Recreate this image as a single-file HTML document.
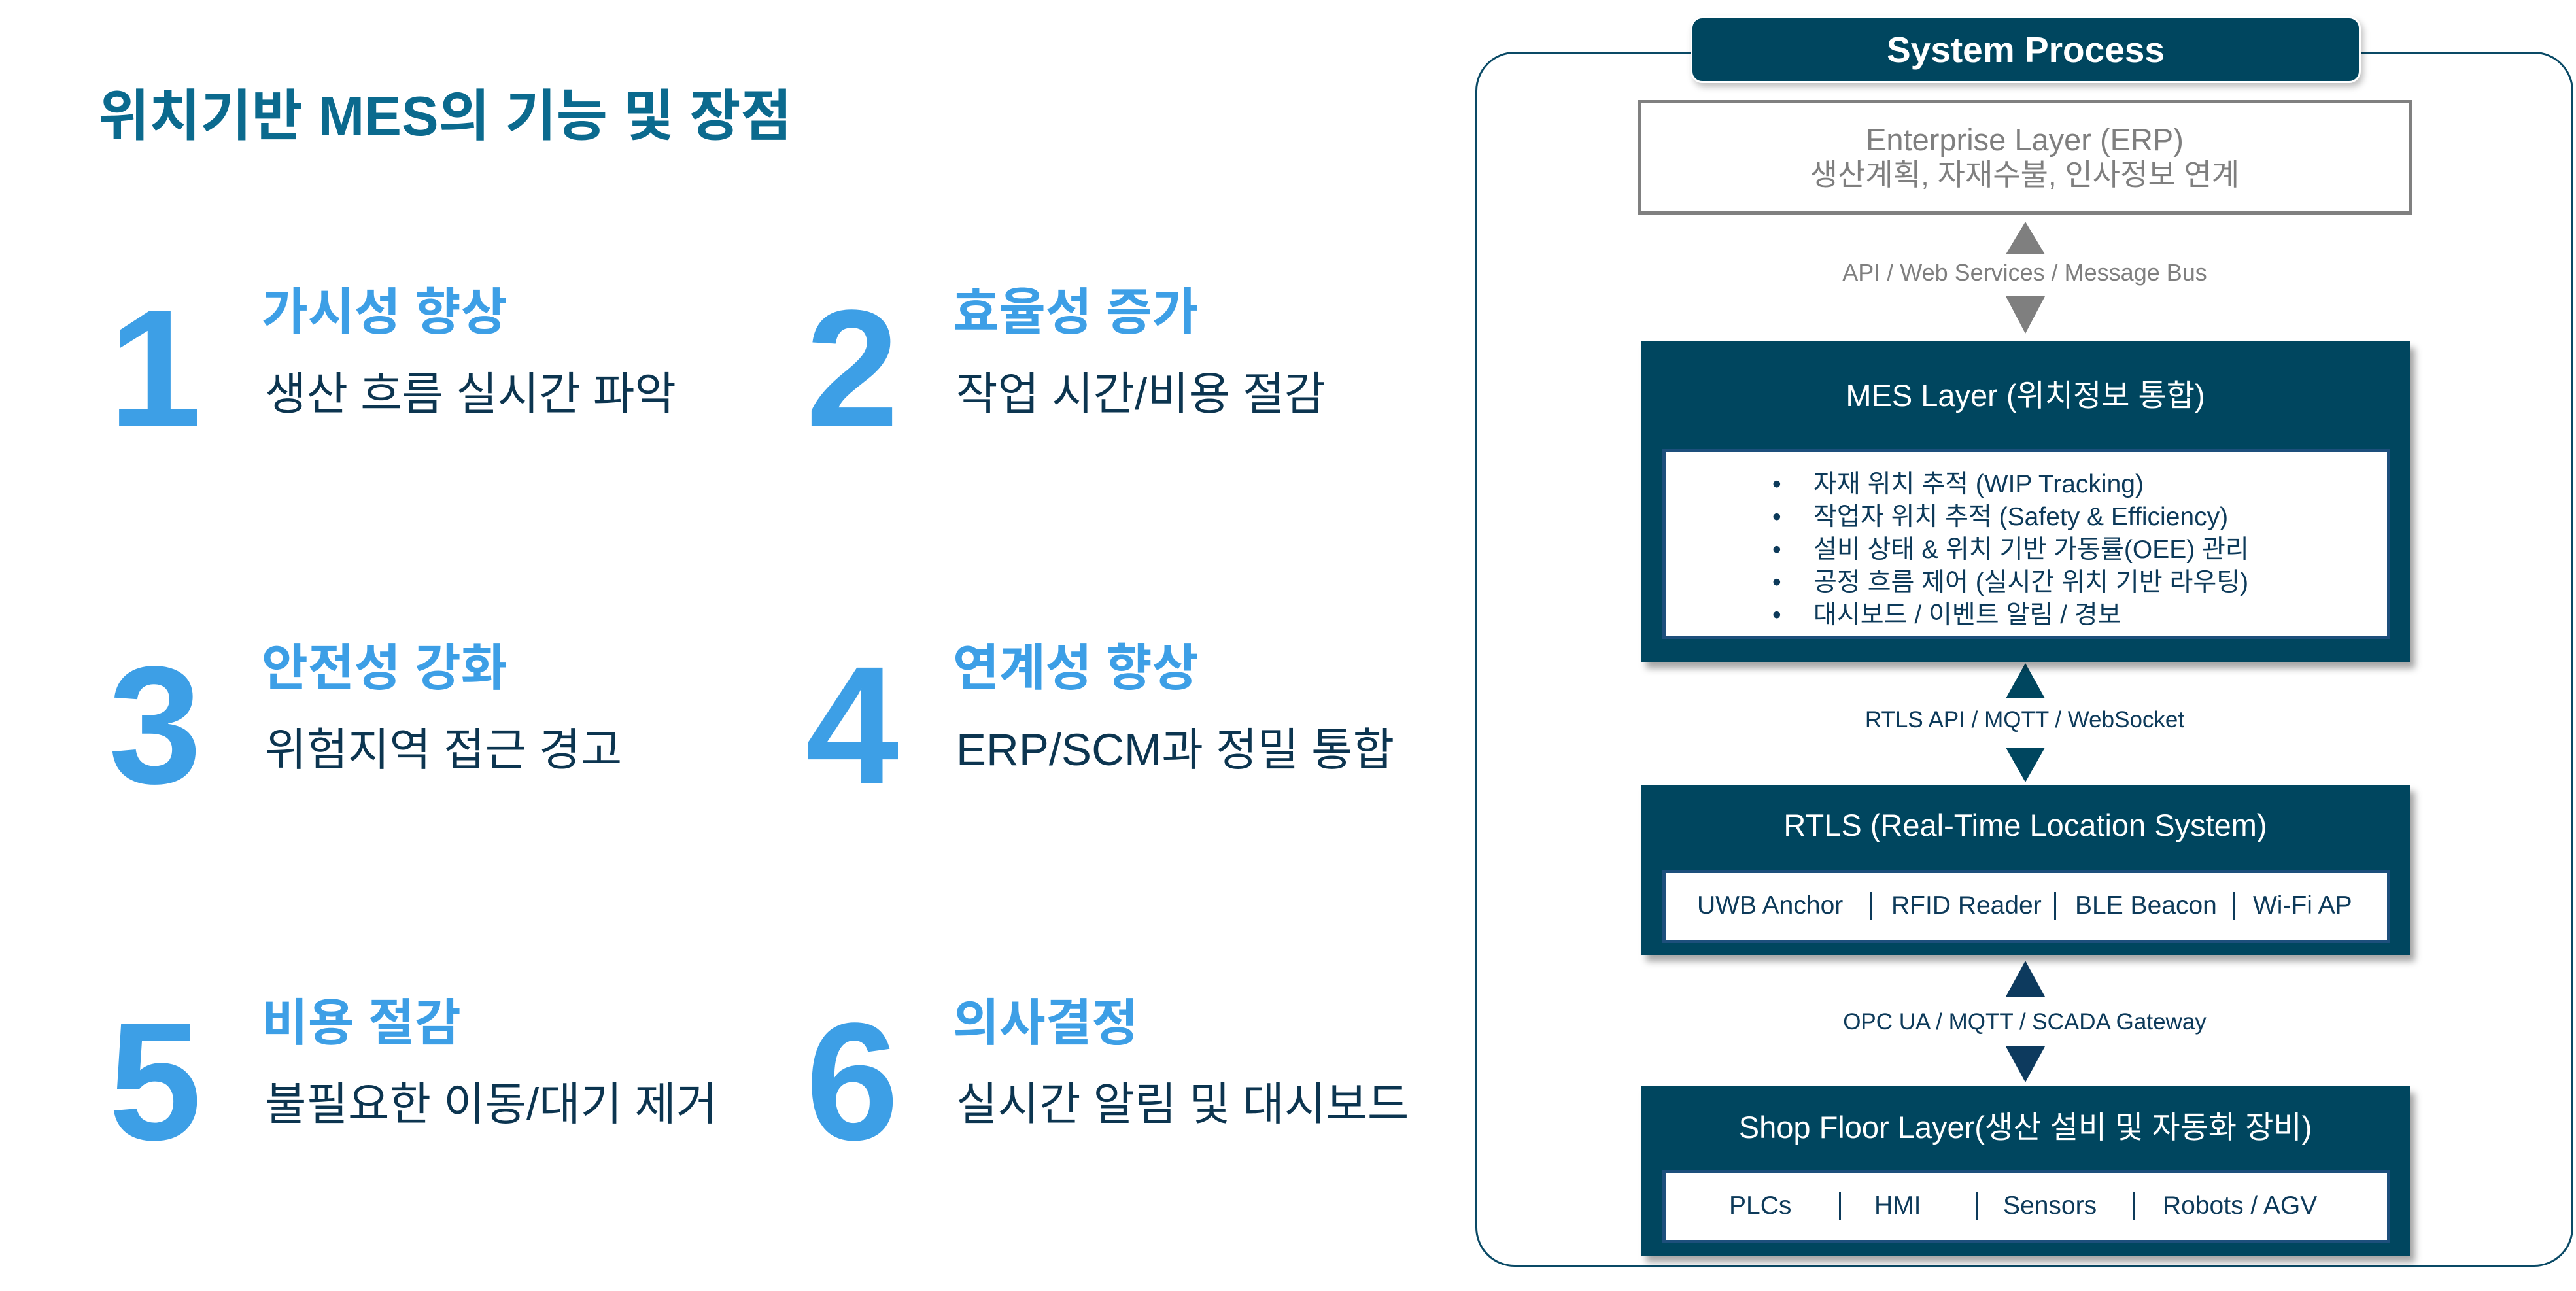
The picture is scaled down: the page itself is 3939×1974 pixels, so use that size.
<!DOCTYPE html>
<html><head><meta charset="utf-8"><style>
*{margin:0;padding:0;box-sizing:border-box}
body{width:3939px;height:1974px;background:#fff;position:relative;overflow:hidden;font-family:"Liberation Sans","Noto Sans CJK KR",sans-serif}
.a{position:absolute;white-space:nowrap;line-height:1}
.num{font-weight:bold;color:#3d9fe6;font-size:256px;font-family:"Liberation Sans",sans-serif}
.h{font-weight:bold;color:#3d9fe6;font-size:77px}
.s{color:#0c3550;font-size:69px}
.c{display:flex;align-items:center;justify-content:center}
.dark{position:absolute;background:#00465f;box-shadow:8px 10px 10px rgba(0,0,0,.35)}
.inner{position:absolute;background:#fff;border:5px solid #1d4f7c}
.wt{color:#fff;font-size:47px}
.it{color:#0d3a5a;font-size:39px}
.lbl{color:#0d3a5a;font-size:35px}
</style></head><body>
<div class="a" style="left:150px;top:136px;font-size:85px;font-weight:bold;color:#0b6a8e">위치기반 MES의 기능 및 장점</div>

<div class="a num" style="left:166px;top:436px">1</div>
<div class="a h" style="left:400px;top:440px">가시성 향상</div>
<div class="a s" style="left:405px;top:568px">생산 흐름 실시간 파악</div>
<div class="a num" style="left:1232px;top:436px">2</div>
<div class="a h" style="left:1457px;top:440px">효율성 증가</div>
<div class="a s" style="left:1462px;top:568px">작업 시간/비용 절감</div>

<div class="a num" style="left:166px;top:981px">3</div>
<div class="a h" style="left:400px;top:984px">안전성 강화</div>
<div class="a s" style="left:405px;top:1112px">위험지역 접근 경고</div>
<div class="a num" style="left:1232px;top:981px">4</div>
<div class="a h" style="left:1457px;top:984px">연계성 향상</div>
<div class="a s" style="left:1462px;top:1112px">ERP/SCM과 정밀 통합</div>

<div class="a num" style="left:166px;top:1526px">5</div>
<div class="a h" style="left:400px;top:1527px">비용 절감</div>
<div class="a s" style="left:405px;top:1654px">불필요한 이동/대기 제거</div>
<div class="a num" style="left:1232px;top:1526px">6</div>
<div class="a h" style="left:1457px;top:1527px">의사결정</div>
<div class="a s" style="left:1462px;top:1654px">실시간 알림 및 대시보드</div>

<div style="position:absolute;left:2256px;top:79px;width:1679px;height:1858px;border:3px solid #0a4a66;border-radius:60px"></div>
<div class="c" style="position:absolute;left:2585px;top:25px;width:1025px;height:102px;background:#00465f;border-radius:18px;box-shadow:4px 6px 10px rgba(0,0,0,.25);border:3px solid #fff;color:#fff;font-weight:bold;font-size:55px">System Process</div>

<div style="position:absolute;left:2504px;top:153px;width:1184px;height:175px;border:5px solid #808080;background:#fff"></div>
<div class="a" style="left:2504px;width:1184px;top:190px;text-align:center;color:#7f7f7f;font-size:47px">Enterprise Layer (ERP)</div>
<div class="a" style="left:2504px;width:1184px;top:244px;text-align:center;color:#7f7f7f;font-size:46px">생산계획, 자재수불, 인사정보 연계</div>

<svg style="position:absolute;left:0;top:0" width="3939" height="1974">
<polygon points="3097,339 3127,389 3067,389" fill="#7f7f7f"/>
<polygon points="3067,453 3127,453 3097,510" fill="#7f7f7f"/>
<polygon points="3097,1014 3127,1068 3067,1068" fill="#00465f"/>
<polygon points="3067,1143 3127,1143 3097,1196" fill="#00465f"/>
<polygon points="3097,1469 3127,1524 3067,1524" fill="#0d3a5e"/>
<polygon points="3067,1600 3127,1600 3097,1655" fill="#0d3a5e"/>
</svg>
<div class="a" style="left:2504px;width:1184px;top:399px;text-align:center;color:#7f7f7f;font-size:36px">API / Web Services / Message Bus</div>

<div class="dark" style="left:2509px;top:522px;width:1176px;height:490px"></div>
<div class="a wt" style="left:2509px;width:1176px;top:581px;text-align:center">MES Layer (위치정보 통합)</div>
<div class="inner" style="left:2542px;top:686px;width:1113px;height:291px"></div>
<div class="a it" style="left:2710px;top:716px;line-height:50px">•<br>•<br>•<br>•<br>•</div>
<div class="a it" style="left:2773px;top:716px;line-height:50px">자재 위치 추적 (WIP Tracking)<br>작업자 위치 추적 (Safety &amp; Efficiency)<br>설비 상태 &amp; 위치 기반 가동률(OEE) 관리<br>공정 흐름 제어 (실시간 위치 기반 라우팅)<br>대시보드 / 이벤트 알림 / 경보</div>

<div class="a lbl" style="left:2504px;width:1184px;top:1083px;text-align:center">RTLS API / MQTT / WebSocket</div>

<div class="dark" style="left:2509px;top:1200px;width:1176px;height:260px"></div>
<div class="a wt" style="left:2509px;width:1176px;top:1238px;text-align:center">RTLS (Real-Time Location System)</div>
<div class="inner" style="left:2542px;top:1330px;width:1113px;height:112px"></div>
<div class="a it" style="left:2595px;top:1365px">UWB Anchor</div>
<div class="a it" style="left:2892px;top:1365px">RFID Reader</div>
<div class="a it" style="left:3173px;top:1365px">BLE Beacon</div>
<div class="a it" style="left:3445px;top:1365px">Wi-Fi AP</div>
<div style="position:absolute;left:2859px;top:1364px;width:3px;height:42px;background:#0d3a5a"></div>
<div style="position:absolute;left:3141px;top:1364px;width:3px;height:42px;background:#0d3a5a"></div>
<div style="position:absolute;left:3414px;top:1364px;width:3px;height:42px;background:#0d3a5a"></div>

<div class="a lbl" style="left:2504px;width:1184px;top:1545px;text-align:center">OPC UA / MQTT / SCADA Gateway</div>

<div class="dark" style="left:2509px;top:1661px;width:1176px;height:259px"></div>
<div class="a wt" style="left:2509px;width:1176px;top:1700px;text-align:center">Shop Floor Layer(생산 설비 및 자동화 장비)</div>
<div class="inner" style="left:2542px;top:1789px;width:1113px;height:112px"></div>
<div class="a it" style="left:2644px;top:1824px">PLCs</div>
<div class="a it" style="left:2866px;top:1824px">HMI</div>
<div class="a it" style="left:3063px;top:1824px">Sensors</div>
<div class="a it" style="left:3307px;top:1824px">Robots / AGV</div>
<div style="position:absolute;left:2812px;top:1823px;width:3px;height:42px;background:#0d3a5a"></div>
<div style="position:absolute;left:3021px;top:1823px;width:3px;height:42px;background:#0d3a5a"></div>
<div style="position:absolute;left:3262px;top:1823px;width:3px;height:42px;background:#0d3a5a"></div>
</body></html>
